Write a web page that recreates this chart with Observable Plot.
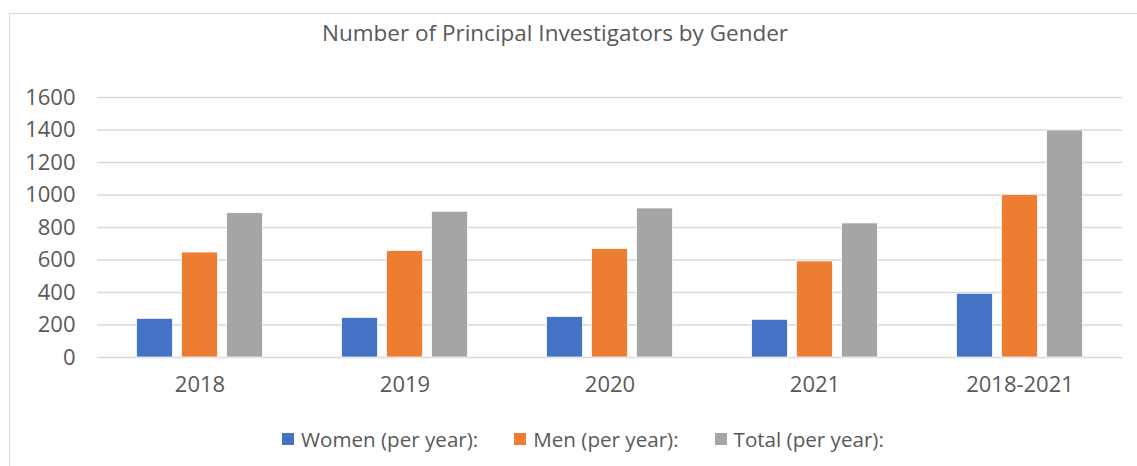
<!DOCTYPE html>
<html>
<head>
<meta charset="utf-8">
<script src="https://cdn.jsdelivr.net/npm/d3@7"></script>
<script src="https://cdn.jsdelivr.net/npm/@observablehq/plot@0.6"></script>
<style>
  html, body { margin: 0; padding: 0; background: #fff; width: 1137px; height: 466px; overflow: hidden; }
  body { position: relative; font-family: "Open Sans", sans-serif; color: #595959; }
  #frame { position: absolute; left: 9px; top: 13px; width: 1140px; height: 470px; border: 1.5px solid #d9d9d9; box-sizing: border-box; }
  #title { position: absolute; left: 0; width: 1110px; top: 18px; text-align: center; font-size: 22.5px; line-height: 30px; color: #595959; }
  #chart { position: absolute; left: 0; top: 0; }
  #legend { position: absolute; left: 282px; top: 424px; display: flex; align-items: center; font-size: 20.6px; line-height: 30px; color: #595959; }
  #legend .item { display: flex; align-items: center; margin-right: 36px; }
  #legend .sw { width: 12px; height: 12px; margin-right: 7px; }
</style>
</head>
<body>
<div id="frame"></div>
<div id="title">Number of Principal Investigators by Gender</div>
<div id="chart"></div>
<div id="legend"></div>
<script>
const categories = ["2018", "2019", "2020", "2021", "2018-2021"];
const seriesNames = ["Women (per year):", "Men (per year):", "Total (per year):"];
const women = [238, 244, 250, 232, 392];
const men = [646, 655, 667, 591, 1001];
const total = [888, 897, 917, 825, 1397];
const seriesColors = ["#4472C4", "#ED7D31", "#A5A5A5"];
const yTicks = [0, 200, 400, 600, 800, 1000, 1200, 1400, 1600];

const seriesValues = [women, men, total];
const rows = [];
categories.forEach((c, i) => {
  seriesNames.forEach((s, j) => {
    rows.push({category: c, series: s, value: seriesValues[j][i]});
  });
});

const chart = Plot.plot({
  width: 1137,
  height: 407,
  marginLeft: 95,
  marginRight: 14,
  marginTop: 97,
  marginBottom: 50,
  style: {fontFamily: "Open Sans, sans-serif", fontSize: "22px", color: "#595959", background: "transparent"},
  fx: {domain: categories, padding: 0, label: null},
  x: {domain: seriesNames, paddingInner: 0.217, paddingOuter: 0.844, axis: null},
  y: {domain: [0, 1600], ticks: yTicks, label: null},
  color: {domain: seriesNames, range: seriesColors},
  marks: [
    Plot.gridY(yTicks, {stroke: "#d9d9d9", strokeOpacity: 1, strokeWidth: 1.5, facetAnchor: null}),
    Plot.barY(rows, {fx: "category", x: "series", y: "value", fill: "series", stroke: "white", strokeWidth: 0.75, insetLeft: -0.5, insetRight: -0.5}),
    Plot.axisY(yTicks, {tickSize: 0, tickPadding: 22, fontSize: 22, fill: "#595959", label: null, anchor: "left", tickFormat: d => String(d)}),
    Plot.axisFx({tickSize: 0, tickPadding: 19, fontSize: 22, fill: "#595959", label: null, anchor: "bottom"})
  ]
});
document.getElementById("chart").appendChild(chart);

const legend = document.getElementById("legend");
seriesNames.forEach((s, j) => {
  const item = document.createElement("div");
  item.className = "item";
  const sw = document.createElement("div");
  sw.className = "sw";
  sw.style.background = seriesColors[j];
  const t = document.createElement("span");
  t.textContent = s;
  item.appendChild(sw);
  item.appendChild(t);
  legend.appendChild(item);
});
</script>
</body>
</html>
